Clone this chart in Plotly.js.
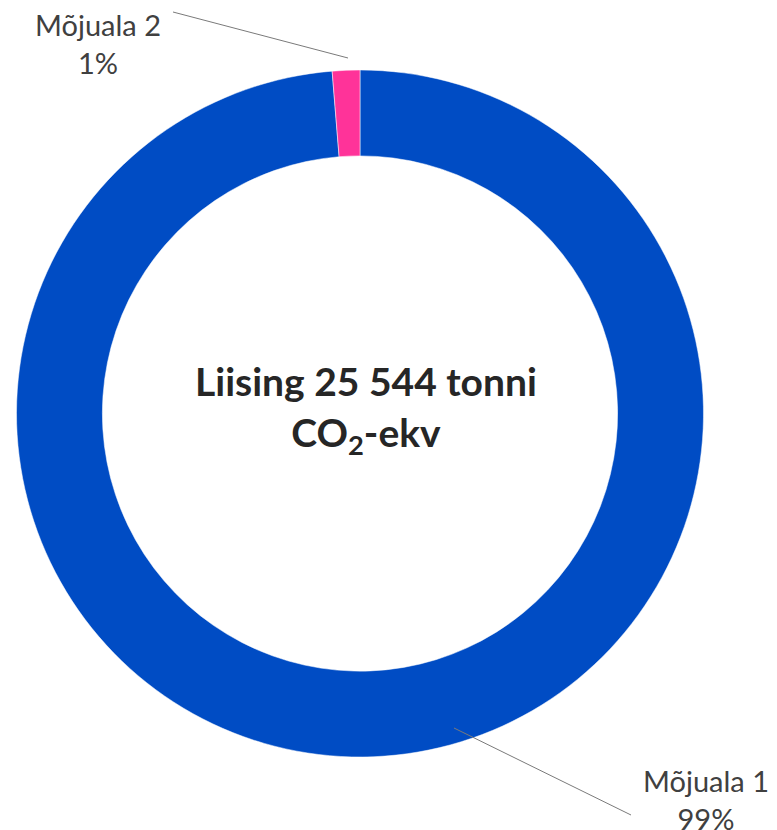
<!DOCTYPE html>
<html>
<head>
<meta charset="utf-8">
<script src="https://cdn.plot.ly/plotly-3.0.1.min.js"></script>
<style>html,body{margin:0;padding:0;background:#fff;}#chart{width:777px;height:830px;}</style>
</head>
<body>
<div id="chart"></div>
<script>
const categories = ["Mõjuala 1", "Mõjuala 2"];
const values = [25214, 330];
const colors = ["#004CC4", "#FF3399"];
const centerTitle = "Liising 25 544 tonni";
const centerSub = "CO<sub>2</sub>-ekv";

const W = 777, H = 830;
const cx = 360, cy = 413.5, R = 343.5;
const total = values.reduce((a, b) => a + b, 0);
const pct = values.map(v => Math.round(v / total * 100) + "%");
const px = x => x / W;
const py = y => 1 - y / H;

const trace = {
  type: "pie",
  labels: categories,
  values: values,
  sort: false,
  direction: "clockwise",
  rotation: 0,
  hole: 0.75,
  textinfo: "none",
  hoverinfo: "label+percent",
  marker: { colors: colors, line: { color: "#ffffff", width: 0.5 } },
  domain: { x: [px(cx - R), px(cx + R)], y: [py(cy + R), py(cy - R)] },
  showlegend: false
};

const labelFont = { family: "Lato, 'Open Sans', sans-serif", size: 29, color: "#404040" };

const layout = {
  width: W, height: H,
  margin: { l: 0, r: 0, t: 0, b: 0 },
  paper_bgcolor: "#ffffff",
  showlegend: false,
  shapes: [
    { type: "line", xref: "paper", yref: "paper", x0: px(173), y0: py(12), x1: px(348), y1: py(58), line: { color: "#7a7a7a", width: 1 } },
    { type: "line", xref: "paper", yref: "paper", x0: px(454), y0: py(728), x1: px(631), y1: py(815), line: { color: "#7a7a7a", width: 1 } }
  ],
  annotations: [
    { xref: "paper", yref: "paper", x: px(98), y: py(44), xanchor: "center", yanchor: "middle", showarrow: false,
      text: categories[1] + "<br>" + pct[1], font: labelFont, align: "center" },
    { xref: "paper", yref: "paper", x: px(706), y: py(799), xanchor: "center", yanchor: "middle", showarrow: false,
      text: categories[0] + "<br>" + pct[0], font: labelFont, align: "center" },
    { xref: "paper", yref: "paper", x: px(366), y: py(410), xanchor: "center", yanchor: "middle", showarrow: false,
      text: "<b>" + centerTitle + "</b><br><b>" + centerSub + "</b>",
      font: { family: "Lato, 'Open Sans', sans-serif", size: 39, color: "#262626" }, align: "center" }
  ]
};

Plotly.newPlot("chart", [trace], layout, { displayModeBar: false, staticPlot: true });
</script>
</body>
</html>
